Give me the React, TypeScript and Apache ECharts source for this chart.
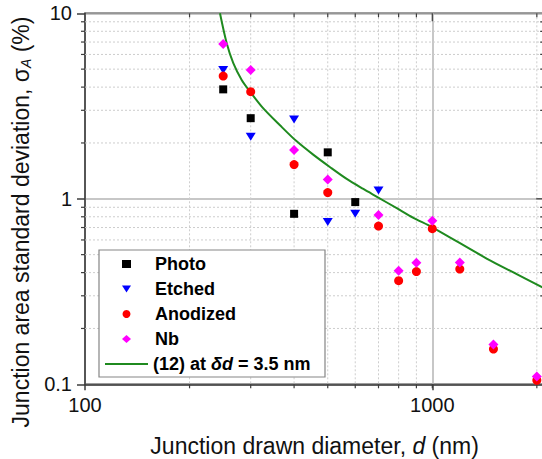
import React, { useEffect, useRef } from "react";
import * as echarts from "echarts";

const FONT = "'Liberation Sans', Arial, sans-serif";
const AXIS_COLOR = "#3c3c3c";

const photoX = [250, 300, 400, 500, 600];
const photoY = [3.89, 2.72, 0.83, 1.78, 0.96];
const etchedX = [250, 300, 400, 500, 600, 700];
const etchedY = [4.95, 2.16, 2.68, 0.75, 0.83, 1.11];
const anodX = [250, 300, 400, 500, 700, 800, 900, 1000, 1200, 1500, 2000];
const anodY = [4.59, 3.78, 1.53, 1.08, 0.713, 0.362, 0.405, 0.69, 0.418, 0.155, 0.105];
const nbX = [250, 300, 400, 500, 700, 800, 900, 1000, 1200, 1500, 2000];
const nbY = [6.83, 4.95, 1.83, 1.27, 0.818, 0.41, 0.452, 0.762, 0.454, 0.164, 0.11];
const curveX = [244.7, 255.9, 267.3, 282.6, 298.7, 326.2, 364.3, 407, 454, 508, 567, 633, 693, 790, 882, 1000, 1438, 1750, 2075];
const curveY = [10, 6.89, 5.38, 4.37, 3.78, 3.07, 2.49, 2.04, 1.73, 1.48, 1.28, 1.13, 1.025, 0.89, 0.79, 0.702, 0.475, 0.393, 0.333];

const xMinorTicks = [200, 300, 400, 500, 600, 700, 800, 900, 2000];
const yMinorTicks = [0.2, 0.3, 0.4, 0.5, 0.6, 0.7, 0.8, 0.9, 2, 3, 4, 5, 6, 7, 8, 9];
const xMajorTicks = [1000];
const yMajorTicks = [1];

const CURVE_NAME = "(12) at δd = 3.5 nm";

const zip = (xs: number[], ys: number[]) => xs.map((x, i) => [x, ys[i]]);

function xTickSeries(values: number[], len: number, grid: boolean) {
  return {
    type: "custom",
    silent: true,
    clip: false,
    z: 1,
    data: values.map((v) => [v, 1]),
    renderItem: (params: any, api: any) => {
      const cs = params.coordSys;
      const x = api.coord([api.value(0), 1])[0];
      const top = cs.y;
      const bottom = cs.y + cs.height;
      const children: any[] = [];
      if (grid) {
        children.push({
          type: "line",
          shape: { x1: x, y1: top, x2: x, y2: bottom },
          style: { stroke: "#cdcdcd", lineWidth: 1, lineDash: [2, 2] },
        });
      }
      children.push({
        type: "line",
        shape: { x1: x, y1: bottom, x2: x, y2: bottom + 4 },
        style: { stroke: AXIS_COLOR, lineWidth: 1.2 },
      });
      children.push({
        type: "line",
        shape: { x1: x, y1: top, x2: x, y2: top + len },
        style: { stroke: AXIS_COLOR, lineWidth: 1.2 },
      });
      return { type: "group", children };
    },
  };
}

function yTickSeries(values: number[], len: number, grid: boolean) {
  return {
    type: "custom",
    silent: true,
    clip: false,
    z: 1,
    data: values.map((v) => [1000, v]),
    renderItem: (params: any, api: any) => {
      const cs = params.coordSys;
      const y = api.coord([1000, api.value(1)])[1];
      const left = cs.x;
      const right = cs.x + cs.width;
      const children: any[] = [];
      if (grid) {
        children.push({
          type: "line",
          shape: { x1: left, y1: y, x2: right, y2: y },
          style: { stroke: "#cdcdcd", lineWidth: 1, lineDash: [2, 2] },
        });
        children.push({
          type: "line",
          shape: { x1: left - 4, y1: y, x2: left, y2: y },
          style: { stroke: AXIS_COLOR, lineWidth: 1.2 },
        });
      }
      children.push({
        type: "line",
        shape: { x1: right - len, y1: y, x2: right, y2: y },
        style: { stroke: AXIS_COLOR, lineWidth: 1.2 },
      });
      return { type: "group", children };
    },
  };
}

const fmt = (v: number) => String(Number(Number(v).toPrecision(6)));

const legendText = {
  fontFamily: FONT,
  fontSize: 18,
  fontWeight: "bold",
  color: "#000",
  lineHeight: 20,
};

export default function App() {
  const ref = useRef<HTMLDivElement>(null);
  useEffect(() => {
    document.body.style.margin = "0";
    if (!ref.current) return;
    const chart = echarts.init(ref.current, null, { renderer: "svg" });
    chart.setOption({
      animation: false,
      backgroundColor: "#fff",
      grid: {
        left: 85,
        top: 13.3,
        right: -2.2,
        bottom: 74.7,
        show: true,
        borderColor: AXIS_COLOR,
        borderWidth: 1.5,
        backgroundColor: "transparent",
        outerBoundsMode: "none",
        containLabel: false,
      },
      xAxis: {
        type: "log",
        logBase: 10,
        min: 100,
        max: 2100,
        name: "Junction drawn diameter, {i|d} (nm)",
        nameLocation: "middle",
        nameGap: 50,
        nameTextStyle: {
          fontFamily: FONT,
          fontSize: 23,
          color: "#111",
          rich: { i: { fontFamily: FONT, fontSize: 23, fontStyle: "italic", color: "#111" } },
        },
        axisLine: { show: true, lineStyle: { color: AXIS_COLOR, width: 1.5 } },
        axisTick: { show: true, length: 6, lineStyle: { color: AXIS_COLOR, width: 1.5 } },
        axisLabel: {
          fontFamily: FONT,
          fontSize: 20,
          color: "#111",
          margin: 11,
          showMaxLabel: false,
          formatter: fmt,
        },
        splitLine: { show: true, lineStyle: { color: "#b4b4b4", width: 1.5 } },
        minorTick: { show: false },
      },
      yAxis: {
        type: "log",
        logBase: 10,
        min: 0.1,
        max: 10,
        axisLine: { show: true, lineStyle: { color: AXIS_COLOR, width: 1.5 } },
        axisTick: { show: true, length: 8, lineStyle: { color: AXIS_COLOR, width: 1.5 } },
        axisLabel: {
          fontFamily: FONT,
          fontSize: 20,
          color: "#111",
          margin: 13,
          formatter: fmt,
        },
        splitLine: { show: true, lineStyle: { color: "#b4b4b4", width: 1.5 } },
      },
      legend: [
        {
          data: [
            "Photo",
            { name: "Etched", icon: "path://M0,0 L10,0 L5,8 Z" },
            "Anodized",
            "Nb",
          ],
          orient: "vertical",
          left: 122,
          top: 254,
          padding: 0,
          itemWidth: 9,
          itemHeight: 8,
          itemGap: 5,
          selectedMode: false,
          z: 10,
          textStyle: { ...legendText, padding: [0, 0, 0, 19] },
        },
        {
          data: [{ name: CURVE_NAME, icon: "rect" }],
          orient: "vertical",
          left: 105,
          top: 354,
          padding: 0,
          itemWidth: 43,
          itemHeight: 2,
          selectedMode: false,
          z: 10,
          textStyle: {
            ...legendText,
            rich: {
              i: { ...legendText, fontStyle: "italic" },
            },
          },
          formatter: () => "(12) at {i|δd} = 3.5 nm",
        },
      ],
      graphic: [
        {
          type: "rect",
          z: 5,
          shape: { x: 99, y: 250, width: 226, height: 127 },
          style: { fill: "#fff", stroke: "#858585", lineWidth: 1.2 },
        },
        {
          type: "text",
          x: 21,
          y: 222,
          rotation: Math.PI / 2,
          style: {
            text: "Junction area standard deviation, σ{s|A} (%)",
            fontFamily: FONT,
            fontSize: 23,
            fill: "#111",
            align: "center",
            verticalAlign: "middle",
            rich: {
              s: { fontFamily: FONT, fontSize: 14, fontStyle: "italic", fill: "#111", verticalAlign: "bottom", lineHeight: 14 },
            },
          },
        },
      ],
      series: [
        xTickSeries(xMinorTicks, 4, true),
        xTickSeries(xMajorTicks, 8, false),
        yTickSeries(yMinorTicks, 4, true),
        yTickSeries(yMajorTicks, 8, false),
        {
          name: CURVE_NAME,
          type: "line",
          data: zip(curveX, curveY),
          smooth: 0.3,
          showSymbol: false,
          symbol: "none",
          z: 3,
          lineStyle: { color: "#1f8a1f", width: 2 },
          itemStyle: { color: "#1f8a1f" },
        },
        {
          name: "Photo",
          type: "scatter",
          data: zip(photoX, photoY),
          symbol: "rect",
          symbolSize: 8,
          z: 3,
          itemStyle: { color: "#000", opacity: 1 },
        },
        {
          name: "Etched",
          type: "scatter",
          data: zip(etchedX, etchedY),
          symbol: "triangle",
          symbolRotate: 180,
          symbolSize: [10, 8],
          z: 3,
          itemStyle: { color: "#0000ff", opacity: 1 },
        },
        {
          name: "Anodized",
          type: "scatter",
          data: zip(anodX, anodY),
          symbol: "circle",
          symbolSize: 9,
          z: 3,
          itemStyle: { color: "#ff0000", opacity: 1 },
        },
        {
          name: "Nb",
          type: "scatter",
          data: zip(nbX, nbY),
          symbol: "diamond",
          symbolSize: [10, 10],
          z: 3,
          itemStyle: { color: "#ff00ff", opacity: 1 },
        },
      ],
    });
    return () => chart.dispose();
  }, []);
  return <div ref={ref} style={{ width: 542, height: 459 }} />;
}
